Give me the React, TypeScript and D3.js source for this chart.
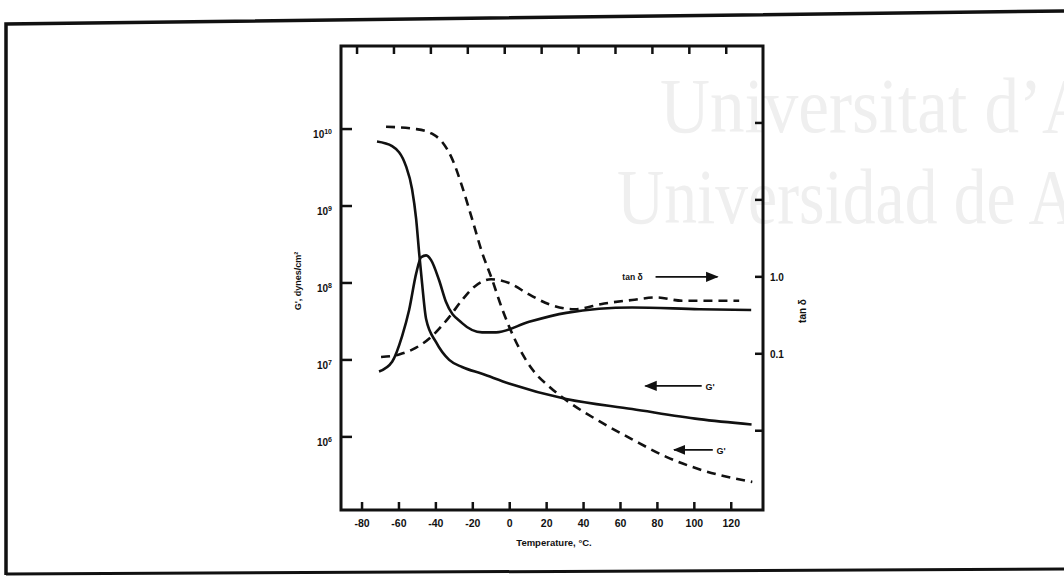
import React from 'react';
import * as d3 from 'd3';

const W = 1064;
const H = 576;

// axis ticks
const xTicks = [-80, -60, -40, -20, 0, 20, 40, 60, 80, 100, 120];
const leftTickExp = [10, 9, 8, 7, 6];
const rightTicks = [100, 10, 1, 0.1, 0.01];
const rightTickLabels = ['', '', '1.0', '0.1', ''];

// G' of the first sample (solid)
const gSolidTemp = [-71.9, -63.7, -56.2, -52.9, -50.7, -49.1, -47.5, -45.3, -39.9, -32.8, -25.8, -15, 0, 30.6, 66.3, 102.6, 131];
const gSolidMod = [6.9e9, 6.0e9, 3.3e9, 1.65e9, 6.8e8, 2.5e8, 1.0e8, 3.4e7, 1.7e7, 1.0e7, 8.1e6, 6.6e6, 4.9e6, 3.1e6, 2.3e6, 1.7e6, 1.45e6];

// G' of the second sample (dashed)
const gDashTemp = [-67, -50.7, -42.1, -36.6, -31.2, -25.8, -20.4, -15, -9.5, -4.1, 3.5, 12.1, 21.4, 30.6, 48.5, 66.3, 84.8, 102.6, 131.4];
const gDashMod = [1.07e10, 1.0e10, 8.7e9, 6.8e9, 4.1e9, 1.8e9, 6.8e8, 2.5e8, 1.1e8, 4.6e7, 1.7e7, 7.6e6, 4.5e6, 3.0e6, 1.6e6, 9.3e5, 5.5e5, 3.8e5, 2.6e5];

// tan delta of the first sample (solid)
const tanSolidTemp = [-70.8, -63.7, -58.3, -54.5, -50.7, -48, -45.3, -42.6, -38.3, -34.5, -25.8, -15, -7.4, 10.5, 30.6, 66.3, 102.6, 130.8];
const tanSolidVal = [0.059, 0.079, 0.17, 0.37, 1.1, 1.8, 1.9, 1.65, 0.91, 0.47, 0.25, 0.19, 0.19, 0.26, 0.34, 0.40, 0.38, 0.37];

// tan delta of the second sample (dashed)
const tanDashTemp = [-69.7, -59.9, -50.7, -42.1, -32.8, -25.8, -19.3, -10.1, -0.3, 10.5, 21.4, 34.9, 51.2, 66.3, 79.3, 93.4, 124.3];
const tanDashVal = [0.091, 0.098, 0.12, 0.17, 0.30, 0.50, 0.74, 0.93, 0.83, 0.59, 0.44, 0.38, 0.45, 0.50, 0.54, 0.49, 0.49];

const zip = (a: number[], b: number[]) => a.map((t, i) => [t, b[i]] as [number, number]);

const LBL = { fontFamily: 'Liberation Sans, Arial, sans-serif', fontWeight: 700 as const, fill: '#111' };

export default function App() {
  const x = d3.scaleLinear().domain([-91.4, 137.2]).range([341, 763]);
  const yG = d3.scaleLog().domain([1.122e5, 1.2e11]).range([510, 46]);
  const yT = d3.scaleLog().domain([9.33e-4, 1000]).range([510, 46]);

  const [x0, x1] = x.range();
  const [yb, yt] = yG.range();

  const lineG = d3.line<[number, number]>().x(d => x(d[0])).y(d => yG(d[1])).curve(d3.curveMonotoneX);
  const lineT = d3.line<[number, number]>().x(d => x(d[0])).y(d => yT(d[1])).curve(d3.curveMonotoneX);

  const curve = { fill: 'none', stroke: '#111', strokeWidth: 2.6, strokeLinejoin: 'round' as const };
  const dash = '9,6';

  return (
    <svg width={W} height={H} style={{ position: 'absolute', left: 0, top: 0, background: '#fff' }}>
      <defs>
        <marker id="ah" viewBox="0 0 10 10" refX="9" refY="5" markerWidth="7" markerHeight="7" orient="auto">
          <path d="M0,1 L10,5 L0,9 z" fill="#111" />
        </marker>
      </defs>
      <rect width={W} height={H} fill="#fff" />

      {/* watermark */}
      <g fill="#efefef" fontFamily="Liberation Serif, Times New Roman, serif" fontSize={79}>
        <text transform="translate(660,132) scale(0.875,1)">Universitat d’A</text>
        <text transform="translate(617,223) scale(0.83,1)">Universidad de A</text>
      </g>

      {/* page frame */}
      <path d="M6,575 L6,24 L1064,11" fill="none" stroke="#111" strokeWidth={3.5} />
      <path d="M6,574 L1064,569" fill="none" stroke="#111" strokeWidth={3} />

      {/* plot box */}
      <rect x={x0} y={yt} width={x1 - x0} height={yb - yt} fill="none" stroke="#111" strokeWidth={3} />

      {/* x ticks (top and bottom, inward) */}
      {xTicks.map(t => (
        <g key={t}>
          <line x1={x(t)} x2={x(t)} y1={yb} y2={yb - 8} stroke="#111" strokeWidth={2.5} />
          <line x1={x(t) - 5} x2={x(t) - 5} y1={yt} y2={yt + 8} stroke="#111" strokeWidth={2.5} />
          <text x={x(t)} y={527} textAnchor="middle" fontSize={10.5} {...LBL}>{t}</text>
        </g>
      ))}
      <text x={(x0 + x1) / 2 + 2} y={546} textAnchor="middle" fontSize={9.5} {...LBL}>Temperature, °C.</text>

      {/* left axis */}
      {leftTickExp.map(e => {
        const v = Number('1e' + e);
        return (
          <g key={e}>
            <line x1={x0} x2={x0 + 11} y1={yG(v)} y2={yG(v)} stroke="#111" strokeWidth={2.5} />
            <text x={332} y={yG(v) + 9} textAnchor="end" fontSize={10} {...LBL}>
              10<tspan dy={-4} fontSize={7}>{e}</tspan>
            </text>
          </g>
        );
      })}
      <text transform="translate(301,281) rotate(-90)" textAnchor="middle" fontSize={9} {...LBL}>G', dynes/cm²</text>

      {/* right axis */}
      {rightTicks.map((v, i) => (
        <g key={v}>
          <line x1={x1} x2={x1 - 8} y1={yT(v)} y2={yT(v)} stroke="#111" strokeWidth={2.5} />
          {rightTickLabels[i] && (
            <text x={770} y={yT(v) + 4} fontSize={10} {...LBL}>{rightTickLabels[i]}</text>
          )}
        </g>
      ))}
      <text transform="translate(806,311) rotate(-90)" textAnchor="middle" fontSize={10} {...LBL}>tan δ</text>

      {/* curves */}
      <path d={lineG(zip(gSolidTemp, gSolidMod)) || ''} {...curve} />
      <path d={lineG(zip(gDashTemp, gDashMod)) || ''} {...curve} strokeDasharray={dash} />
      <path d={lineT(zip(tanSolidTemp, tanSolidVal)) || ''} {...curve} />
      <path d={lineT(zip(tanDashTemp, tanDashVal)) || ''} {...curve} strokeDasharray={dash} />

      {/* annotations */}
      <text x={x(61)} y={yT(1) + 3} fontSize={8.5} {...LBL}>tan δ</text>
      <line x1={x(79)} x2={x(112.5)} y1={yT(1)} y2={yT(1)} stroke="#111" strokeWidth={1.8} markerEnd="url(#ah)" />

      <line x1={x(104)} x2={x(73.5)} y1={yG(4.6e6)} y2={yG(4.6e6)} stroke="#111" strokeWidth={1.8} markerEnd="url(#ah)" />
      <text x={x(106)} y={yG(4.6e6) + 4} fontSize={9} {...LBL}>G'</text>

      <line x1={x(110)} x2={x(89)} y1={yG(6.8e5)} y2={yG(6.8e5)} stroke="#111" strokeWidth={1.8} markerEnd="url(#ah)" />
      <text x={x(112)} y={yG(6.8e5) + 4} fontSize={9} {...LBL}>G'</text>
    </svg>
  );
}
